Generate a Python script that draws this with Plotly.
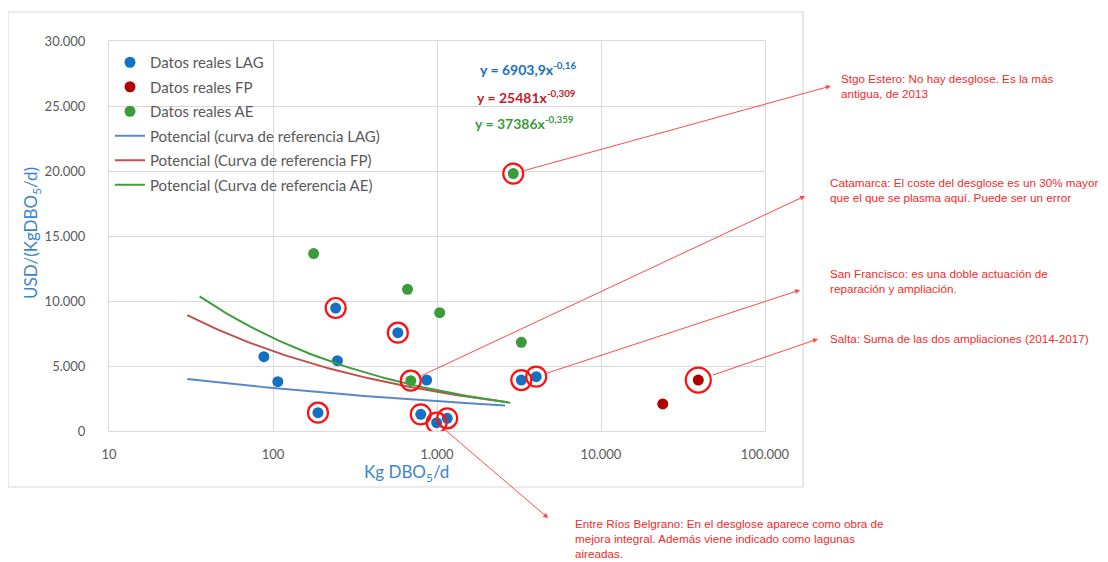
import numpy as np
import plotly.graph_objects as go

# ---------------- data ----------------
lag_x = [88, 107, 188, 241, 247, 577, 796, 865, 995, 1154, 3266, 4027]
lag_y = [5720, 3790, 1410, 9460, 5410, 7560, 1280, 3920, 640, 975, 3920, 4180]
fp_x = [23800, 39200]
fp_y = [2080, 3920]
ae_x = [177, 661, 692, 1038, 2917, 3266]
ae_y = [13650, 10900, 3870, 9100, 19800, 6820]

# power trend lines  y = a * x^b  (coefficients shown on the chart)
lag_a, lag_b = 6903.9, -0.16
fp_a, fp_b = 25481, -0.309
ae_a, ae_b = 37386, -0.359
lag_span = [30, 2600]
fp_span = [30, 2700]
ae_span = [35.7, 2800]

# highlighted points (indices)
ring_lag = [2, 3, 5, 6, 8, 9, 10, 11]
ring_ae = [2, 4]
ring_fp = [1]

x_tickvals = [10, 100, 1000, 10000, 100000]
x_ticktext = ["10", "100", "1.000", "10.000", "100.000"]

notes = [
    ("Stgo Estero: No hay desglose. Es la más<br>antigua, de 2013", "ae", 4),
    ("Catamarca: El coste del desglose es un 30% mayor<br>que el que se plasma aquí. Puede ser un error", "ae", 2),
    ("San Francisco: es una doble actuación de<br>reparación y ampliación.", "lag", 11),
    ("Salta: Suma de las dos ampliaciones (2014-2017)", "fp", 1),
    ("Entre Ríos Belgrano: En el desglose aparece como obra de<br>mejora integral. Además viene indicado como lagunas<br>aireadas.", "lag", 8),
]

# ---------------- styling ----------------
C_LAG = "#1470C2"
C_FP = "#B00000"
C_AE = "#3A9B3A"
L_LAG = "#5A86CC"
L_FP = "#C0504D"
L_AE = "#3D9E3D"
RING = "#FF1010"
NOTE = "#F52A2A"
GRID = "#D9D9D9"
TXT = "#595959"
TITLE = "#3B86CB"
FONT = "Lato"

OFF = 8  # page body margin
L, T, W, H = 109, 41, 656, 390  # plot area in page pixels


def px(x):
    return (x - L) / W


def py(y):
    return (T + H - y) / H


def curve(a, b, span):
    xs = np.logspace(np.log10(span[0]), np.log10(span[1]), 80)
    return xs, a * xs ** b


fig = go.Figure()

fig.add_trace(go.Scatter(x=lag_x, y=lag_y, mode="markers", name="Datos reales LAG",
                         marker=dict(color=C_LAG, size=11), legendgroup="a"))
fig.add_trace(go.Scatter(x=fp_x, y=fp_y, mode="markers", name="Datos reales FP",
                         marker=dict(color=C_FP, size=11), legendgroup="b"))
fig.add_trace(go.Scatter(x=ae_x, y=ae_y, mode="markers", name="Datos reales AE",
                         marker=dict(color=C_AE, size=11), legendgroup="c"))

for (a, b, span, col, nm, g) in [
    (lag_a, lag_b, lag_span, L_LAG, "Potencial (curva de referencia LAG)", "d"),
    (fp_a, fp_b, fp_span, L_FP, "Potencial (Curva de referencia FP)", "e"),
    (ae_a, ae_b, ae_span, L_AE, "Potencial (Curva de referencia AE)", "f"),
]:
    cx, cy = curve(a, b, span)
    fig.add_trace(go.Scatter(x=cx, y=cy, mode="lines", name=nm,
                             line=dict(color=col, width=2), legendgroup=g))

series = {"lag": (lag_x, lag_y), "fp": (fp_x, fp_y), "ae": (ae_x, ae_y)}

rx = [lag_x[i] for i in ring_lag] + [ae_x[i] for i in ring_ae]
ry = [lag_y[i] for i in ring_lag] + [ae_y[i] for i in ring_ae]
fig.add_trace(go.Scatter(x=rx, y=ry, mode="markers", showlegend=False, hoverinfo="skip",
                         marker=dict(symbol="circle-open", size=20, color=RING,
                                     line=dict(color=RING, width=2.2))))
fig.add_trace(go.Scatter(x=[fp_x[i] for i in ring_fp], y=[fp_y[i] for i in ring_fp],
                         mode="markers", showlegend=False, hoverinfo="skip",
                         marker=dict(symbol="circle-open", size=25, color=RING,
                                     line=dict(color=RING, width=2.2))))

# equations
eqs = [
    ("y = 6903,9x<sup>-0,16</sup>", C_LAG, 478, 69),
    ("y = 25481x<sup>-0,309</sup>", "#C8202A", 475, 96),
    ("y = 37386x<sup>-0,359</sup>", C_AE, 473, 122),
]
ann = []
for t, c, x, y in eqs:
    ann.append(dict(text="<b>" + t + "</b>", x=px(x), y=py(y), xref="paper", yref="paper",
                    xanchor="left", yanchor="middle", showarrow=False,
                    font=dict(family=FONT, size=14, color=c)))

# notes: arrow from highlighted point to text
heads = [(832, 86), (806, 196), (801, 290), (819, 339), (548, 518)]
texts_pos = [(839, 86), (828, 190), (828, 281), (828, 338), (573, 538)]
stand = [10, 10, 10, 14, 9]
for (txt, s, i), (hx, hy), (tx, ty), so in zip(notes, heads, texts_pos, stand):
    sx, sy = series[s]
    hxd = 1 + (hx - 107) / 164.7
    hyd = (431 - hy) * 30000 / 390
    ann.append(dict(x=hxd, y=hyd, xref="x", yref="y", ax=np.log10(sx[i]), ay=sy[i],
                    axref="x", ayref="y", text="", showarrow=True, arrowhead=2,
                    arrowsize=1, arrowwidth=1, arrowcolor="#FF4A4A", startstandoff=so))
    ann.append(dict(text=txt, x=px(tx), y=py(ty), xref="paper", yref="paper",
                    xanchor="left", yanchor="middle", align="left", showarrow=False,
                    font=dict(family="Liberation Sans", size=11.7, color=NOTE)))

# axis titles
ann.append(dict(text="USD/(KgDBO<sub>5</sub>/d)", x=px(32), y=py(233), xref="paper", yref="paper",
                textangle=-90, showarrow=False, xanchor="center", yanchor="middle",
                font=dict(family=FONT, size=17, color=TITLE)))
ann.append(dict(text="Kg DBO<sub>5</sub>/d", x=px(406), y=py(473), xref="paper", yref="paper",
                showarrow=False, xanchor="center", yanchor="middle",
                font=dict(family=FONT, size=17, color=TITLE)))

fig.update_layout(
    width=1108, height=562,
    margin=dict(l=L - OFF, r=1108 - (L - OFF) - W, t=T - OFF, b=562 - (T - OFF) - H),
    paper_bgcolor="white", plot_bgcolor="white",
    separators=",.",
    annotations=ann,
    legend=dict(x=px(110), y=py(46), xanchor="left", yanchor="top",
                bgcolor="rgba(0,0,0,0)", font=dict(family=FONT, size=15, color=TXT),
                tracegroupgap=2),
    shapes=[dict(type="rect", xref="paper", yref="paper",
                 x0=px(8), x1=px(803), y0=py(487), y1=py(12),
                 line=dict(color=GRID, width=1.2), layer="below")],
    showlegend=True,
)
fig.update_xaxes(type="log", range=[1, 5], tickvals=x_tickvals, ticktext=x_ticktext,
                 showgrid=True, gridcolor=GRID, showline=True, linecolor=GRID, mirror=True,
                 zeroline=False, ticks="", ticklabelstandoff=11,
                 tickfont=dict(family=FONT, size=13, color=TXT))
fig.update_yaxes(range=[0, 30000], dtick=5000, tickformat=",", showgrid=True, gridcolor=GRID,
                 showline=True, linecolor=GRID, mirror=True, zeroline=False, ticks="",
                 ticklabelstandoff=20, tickfont=dict(family=FONT, size=13, color=TXT))

fig.write_html("out.html")
